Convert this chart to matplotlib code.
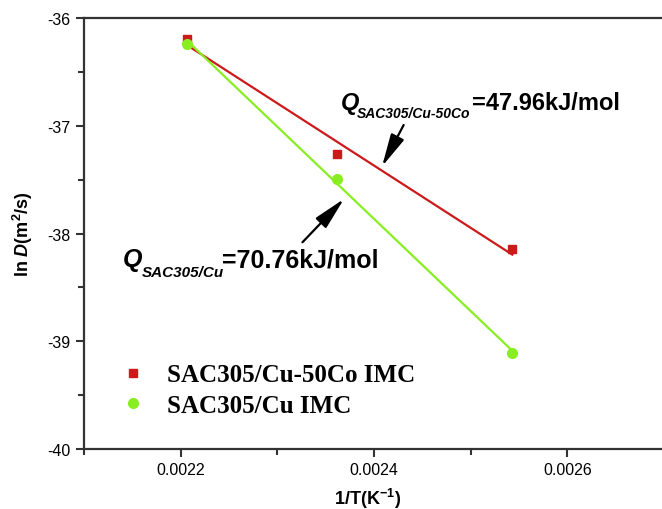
import numpy as np
from matplotlib import pyplot as plt

# Arrhenius data: ln D versus 1/T for the two IMC layers
inv_T = [0.002207, 0.002362, 0.002543]
lnD_cu50co = [-36.195, -37.26, -38.145]
lnD_cu = [-36.24, -37.49, -39.11]

LABEL_CU50CO = 'SAC305/Cu-50Co IMC'
LABEL_CU = 'SAC305/Cu IMC'
RED = '#cc1a1a'
GREEN = '#88ee22'

W, H = 662, 510


def px(x, y):
    # pixel position (from top-left) -> figure fraction
    return x / W, 1 - y / H


plt.rcParams['font.family'] = ['Liberation Sans', 'DejaVu Sans']
plt.rcParams['mathtext.fontset'] = 'custom'
plt.rcParams['mathtext.it'] = 'Liberation Sans:italic:bold'
plt.rcParams['mathtext.bf'] = 'Liberation Sans:bold'
plt.rcParams['mathtext.rm'] = 'Liberation Sans:bold'

fig = plt.figure(figsize=(W / 100, H / 100), dpi=100)
ax = fig.add_axes([84 / W, 60 / H, 580 / W, 431 / H])

x = np.array(inv_T)
for y, color, marker, ms, label in [
        (lnD_cu50co, RED, 's', 6, LABEL_CU50CO),
        (lnD_cu, GREEN, 'o', 7, LABEL_CU)]:
    # linear fit through the points, drawn over their x span
    k, b = np.polyfit(x, y, 1)
    ax.plot(x[[0, -1]], k * x[[0, -1]] + b, color=color, lw=1.6, zorder=2)
    ax.plot(x, y, linestyle='none', marker=marker, ms=ms, color=color,
            label=label, zorder=3)

ax.set_xlim(0.0021, 0.0027)
ax.set_ylim(-40, -36)
ax.set_xticks([0.0022, 0.0024, 0.0026])
ax.set_xticks([0.0021, 0.0023, 0.0025], minor=True)
ax.set_yticks([-40, -39, -38, -37, -36])
ax.set_yticks([-39.5, -38.5, -37.5, -36.5], minor=True)
ax.set_yticklabels(['-40', '-39', '-38', '-37', '-36'])
ax.tick_params(which='both', direction='out', width=1.5, color='#333333',
               labelsize=11.5, top=False, right=False)
ax.tick_params(which='major', length=6)
ax.tick_params(which='minor', length=4)
for s in ax.spines.values():
    s.set_linewidth(1.6)
    s.set_color('#333333')

fig.text(*px(368, 505), '1/T(K$^{-1}$)', fontsize=13, fontweight='bold',
         ha='center', va='baseline')
ax.set_ylabel('ln $\\mathit{D}$(m$^{2}$/s)', fontsize=13,
              fontweight='bold', labelpad=9)

leg = ax.legend(loc='upper left', bbox_to_anchor=(0.013, 0.251),
                frameon=False,
                prop={'family': 'Liberation Serif', 'weight': 'bold',
                      'size': 18},
                handletextpad=0.6, labelspacing=0.31, handlelength=1.5)

arrow = dict(arrowstyle='-|>,head_length=1.0,head_width=0.22',
             color='black', lw=1.6, mutation_scale=20)

# activation energy labels with arrows onto the fitted lines
fig.text(*px(341, 110), 'Q', fontsize=17, fontweight='bold',
         style='italic', va='baseline')
fig.text(*px(357, 118), 'SAC305/Cu-50Co', fontsize=10, fontweight='bold',
         style='italic', va='baseline')
fig.text(*px(472, 110), '=47.96kJ/mol', fontsize=17, fontweight='bold',
         va='baseline')
ax.annotate('', xy=(0.002407, -37.40), xytext=(0.002432, -36.97),
            arrowprops=arrow)

fig.text(*px(123, 267), 'Q', fontsize=18, fontweight='bold',
         style='italic', va='baseline')
fig.text(*px(142, 277), 'SAC305/Cu', fontsize=11, fontweight='bold',
         style='italic', va='baseline')
fig.text(*px(222, 267), '=70.76kJ/mol', fontsize=18, fontweight='bold',
         va='baseline')
ax.annotate('', xy=(0.002371, -37.66), xytext=(0.002324, -38.10),
            arrowprops=arrow)

fig.savefig('out.png', dpi=100)
